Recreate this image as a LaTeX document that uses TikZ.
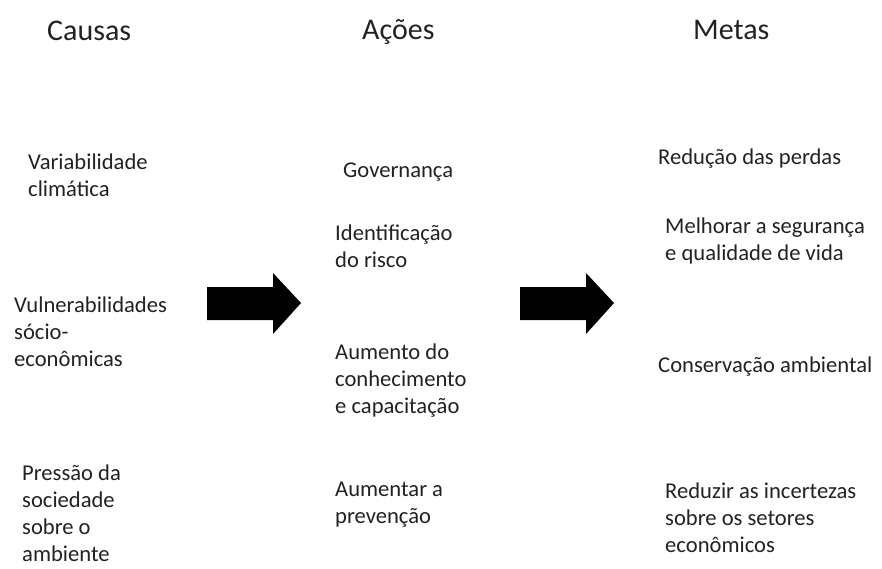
\documentclass[tikz,border=0pt]{standalone}
\usepackage{fontspec}
\setmainfont{Carlito}
\definecolor{txt}{HTML}{222222}
\begin{document}
\begin{tikzpicture}[x=1pt,y=-1pt,
  title/.style={anchor=base west,inner sep=0pt,text=txt,font=\fontsize{30}{36}\selectfont},
  item/.style={anchor=base west,inner sep=0pt,text=txt,align=left,font=\fontsize{22.6}{27}\selectfont},
  blockarrow/.style={fill=black}]
\useasboundingbox (0,0) rectangle (882,568);
% titles (anchor = baseline)
\node[title] (causas) at (47,40) {Causas};
\node[title] (acoes) at (362,39) {Ações};
\node[title] (metas) at (693,39) {Metas};
% causes (anchor = baseline of last line)
\node[item] (c1) at (28,196) {Variabilidade\\climática};
\node[item] (c2) at (14,366) {Vulnerabilidades\\sócio-\\econômicas};
\node[item] (c3) at (22,561) {Pressão da\\sociedade\\sobre o\\ambiente};
% actions
\node[item] (a1) at (343,177) {Governança};
\node[item] (a2) at (335,267) {Identificação\\do risco};
\node[item] (a3) at (335,413) {Aumento do\\conhecimento\\e capacitação};
\node[item] (a4) at (335,523) {Aumentar a\\prevenção};
% goals
\node[item] (m1) at (658,164) {Redução das perdas};
\node[item] (m2) at (665,260) {Melhorar a segurança\\e qualidade de vida};
\node[item] (m3) at (658,372) {Conservação ambiental};
\node[item] (m4) at (665,552) {Reduzir as incertezas\\sobre os setores\\econômicos};
% block arrows
\fill[blockarrow] (207,287) -- (273,287) -- (273,273) -- (301,303) -- (273,334) -- (273,320) -- (207,320) -- cycle;
\fill[blockarrow] (520,287) -- (586,287) -- (586,273) -- (614,303) -- (586,334) -- (586,320) -- (520,320) -- cycle;
\end{tikzpicture}
\end{document}
